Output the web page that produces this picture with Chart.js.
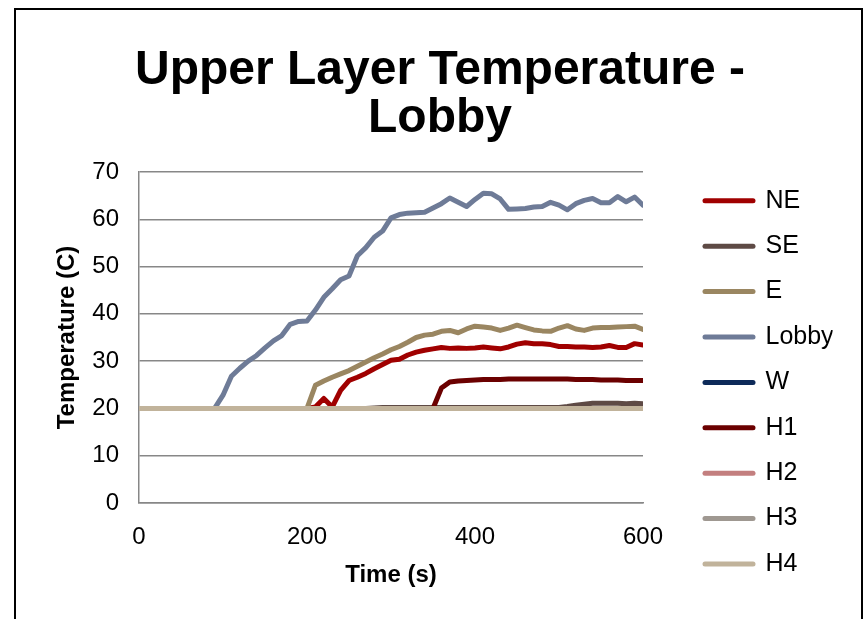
<!DOCTYPE html>
<html>
<head>
<meta charset="utf-8">
<title>Upper Layer Temperature - Lobby</title>
<script src="https://cdn.jsdelivr.net/npm/chart.js@4.4.1/dist/chart.umd.min.js"></script>
<style>
  html, body { margin: 0; padding: 0; background: #fff; overflow: hidden; }
  #wrap { position: relative; width: 866px; height: 619px; }
  #wrap canvas { position: absolute; left: 0; top: 0; }
  #frame { position: absolute; left: 14px; top: 8px; width: 849px; height: 700px;
           border: 2px solid #000; box-sizing: border-box; pointer-events: none; }
</style>
</head>
<body>
<div id="wrap">
  <canvas id="chart" width="866" height="619"></canvas>
  <div id="frame"></div>
</div>
<script>
// Sample times (s)
const timeSeconds = [
  0, 10, 20, 30, 40, 50, 60, 70, 80, 90,
  100, 110, 120, 130, 140, 150, 160, 170, 180, 190,
  200, 210, 220, 230, 240, 250, 260, 270, 280, 290,
  300, 310, 320, 330, 340, 350, 360, 370, 380, 390,
  400, 410, 420, 430, 440, 450, 460, 470, 480, 490,
  500, 510, 520, 530, 540, 550, 560, 570, 580, 590, 600
];

// Upper layer temperature (C) per compartment
const ne = [
  20, 20, 20, 20, 20, 20, 20, 20, 20, 20,
  20, 20, 20, 20, 20, 20, 20, 20, 20, 20,
  20, 20.3, 22.1, 20.3, 23.8, 25.9, 26.6, 27.4, 28.4, 29.3,
  30.2, 30.4, 31.3, 31.9, 32.3, 32.6, 32.9, 32.7, 32.8, 32.7,
  32.8, 33, 32.8, 32.6, 33, 33.6, 33.9, 33.7, 33.7, 33.5,
  33.1, 33.1, 33, 33, 32.9, 33, 33.3, 32.9, 32.9, 33.7, 33.4
];
const se = [
  20, 20, 20, 20, 20, 20, 20, 20, 20, 20,
  20, 20, 20, 20, 20, 20, 20, 20, 20, 20,
  20, 20, 20, 20, 20, 20, 20, 20, 20.1, 20.2,
  20.2, 20.2, 20.2, 20.2, 20.2, 20.2, 20.2, 20.2, 20.2, 20.2,
  20.2, 20.2, 20.2, 20.2, 20.2, 20.2, 20.2, 20.2, 20.2, 20.2,
  20.2, 20.4, 20.7, 20.9, 21.1, 21.1, 21.1, 21.1, 21, 21.1, 21
];
const e = [
  20, 20, 20, 20, 20, 20, 20, 20, 20, 20,
  20, 20, 20, 20, 20, 20, 20, 20, 20, 20,
  20, 24.9, 25.8, 26.6, 27.3, 28, 28.9, 29.8, 30.7, 31.5,
  32.4, 33.1, 34, 35, 35.5, 35.7, 36.3, 36.5, 36, 36.8,
  37.4, 37.2, 37, 36.5, 37, 37.6, 37.1, 36.6, 36.4, 36.3,
  37, 37.5, 36.8, 36.5, 37, 37.1, 37.1, 37.2, 37.3, 37.4, 36.7
];
const lobby = [
  20, 20, 20, 20, 20, 20, 20, 20, 20, 20,
  22.8, 26.8, 28.5, 30, 31.2, 32.8, 34.3, 35.4, 37.8, 38.4,
  38.5, 40.8, 43.5, 45.3, 47.2, 48, 52.3, 54, 56.2, 57.5,
  60.3, 61, 61.3, 61.4, 61.5, 62.4, 63.3, 64.5, 63.6, 62.7,
  64.2, 65.5, 65.4, 64.3, 62.1, 62.2, 62.3, 62.6, 62.7, 63.6,
  63, 62, 63.3, 64, 64.4, 63.5, 63.5, 64.8, 63.7, 64.7, 63
];
const w = [
  20, 20, 20, 20, 20, 20, 20, 20, 20, 20,
  20, 20, 20, 20, 20, 20, 20, 20, 20, 20,
  20, 20, 20, 20, 20, 20, 20, 20, 20, 20,
  20, 20, 20, 20, 20, 20, 20, 20, 20, 20,
  20, 20, 20, 20, 20, 20, 20, 20, 20, 20,
  20, 20, 20, 20, 20, 20, 20, 20, 20, 20, 20
];
const h1 = [
  20, 20, 20, 20, 20, 20, 20, 20, 20, 20,
  20, 20, 20, 20, 20, 20, 20, 20, 20, 20,
  20, 20, 20, 20, 20, 20, 20, 20, 20, 20,
  20, 20, 20, 20, 20, 20, 24.3, 25.6, 25.8, 25.9,
  26, 26.1, 26.1, 26.1, 26.2, 26.2, 26.2, 26.2, 26.2, 26.2,
  26.2, 26.2, 26.1, 26.1, 26.1, 26, 26, 26, 25.9, 25.9, 25.9
];
const h2 = [
  20, 20, 20, 20, 20, 20, 20, 20, 20, 20,
  20, 20, 20, 20, 20, 20, 20, 20, 20, 20,
  20, 20, 20, 20, 20, 20, 20, 20, 20, 20,
  20, 20, 20, 20, 20, 20, 20, 20, 20, 20,
  20, 20, 20, 20, 20, 20, 20, 20, 20, 20,
  20, 20, 20, 20, 20, 20, 20, 20, 20, 20, 20
];
const h3 = [
  20, 20, 20, 20, 20, 20, 20, 20, 20, 20,
  20, 20, 20, 20, 20, 20, 20, 20, 20, 20,
  20, 20, 20, 20, 20, 20, 20, 20, 20, 20,
  20, 20, 20, 20, 20, 20, 20, 20, 20, 20,
  20, 20, 20, 20, 20, 20, 20, 20, 20, 20,
  20, 20, 20, 20, 20, 20, 20, 20, 20, 20, 20
];
const h4 = [
  20, 20, 20, 20, 20, 20, 20, 20, 20, 20,
  20, 20, 20, 20, 20, 20, 20, 20, 20, 20,
  20, 20, 20, 20, 20, 20, 20, 20, 20, 20,
  20, 20, 20, 20, 20, 20, 20, 20, 20, 20,
  20, 20, 20, 20, 20, 20, 20, 20, 20, 20,
  20, 20, 20, 20, 20, 20, 20, 20, 20, 20, 20
];

const seriesNames = ['NE', 'SE', 'E', 'Lobby', 'W', 'H1', 'H2', 'H3', 'H4'];
const seriesValues = [ne, se, e, lobby, w, h1, h2, h3, h4];
const seriesColors = ['#A00000', '#5E4A45', '#9A8661', '#6E7B97', '#0D2A59',
                      '#6B0000', '#C37F7F', '#9F9891', '#C1B39B'];

const titleLines = ['Upper Layer Temperature -', 'Lobby'];
const xAxisTitle = 'Time (s)';
const yAxisTitle = 'Temperature (C)';

const FONT = '"Liberation Sans", Arial, Helvetica, sans-serif';
const GRID = '#878787';
const LINE_W = 5;

Chart.defaults.font.family = FONT;
Chart.defaults.color = '#000';

// Later series sit on top of earlier ones (H4 last, on top).
const datasets = seriesNames.map((name, i) => ({
  label: name,
  data: seriesValues[i],
  borderColor: seriesColors[i],
  backgroundColor: seriesColors[i],
  borderWidth: LINE_W,
  borderCapStyle: 'round',
  borderJoinStyle: 'round',
  pointRadius: 0,
  pointHoverRadius: 0,
  tension: 0,
  fill: false,
  order: seriesNames.length - 1 - i
}));

new Chart(document.getElementById('chart'), {
  type: 'line',
  data: { labels: timeSeconds, datasets },
  options: {
    responsive: false,
    animation: false,
    events: [],
    layout: { padding: { left: 47.4, right: 33.4, top: 0, bottom: 22.1 } },
    plugins: {
      tooltip: { enabled: false },
      title: {
        display: true,
        text: titleLines,
        color: '#000',
        font: { size: 48, weight: 'bold', lineHeight: 1.0 },
        padding: { top: 47, bottom: 29 }
      },
      legend: {
        position: 'right',
        align: 'end',
        maxWidth: 148,
        labels: {
          usePointStyle: true,
          pointStyleWidth: 48,
          padding: 20.4,
          color: '#000',
          font: { size: 25 },
          generateLabels: (chart) => chart.data.datasets.map((ds, i) => ({
            text: ds.label,
            fillStyle: ds.borderColor,
            strokeStyle: ds.borderColor,
            lineWidth: LINE_W,
            lineCap: 'round',
            pointStyle: 'line',
            hidden: !chart.isDatasetVisible(i),
            datasetIndex: i
          }))
        }
      }
    },
    scales: {
      x: {
        type: 'linear',
        min: 0,
        max: 600,
        ticks: { stepSize: 200, padding: 20, font: { size: 24 }, color: '#000', maxRotation: 0 },
        grid: { display: false, drawTicks: false },
        border: { display: true, color: GRID, width: 1.5 },
        title: {
          display: true,
          text: xAxisTitle,
          color: '#000',
          font: { size: 24, weight: 'bold' },
          padding: { top: 0, bottom: 7.5 }
        },
        afterFit: (s) => { s.height = 93.9; }
      },
      y: {
        min: 0,
        max: 70,
        ticks: { stepSize: 10, padding: 20, font: { size: 24 }, color: '#000' },
        grid: { color: GRID, lineWidth: 1.5, drawTicks: false },
        border: { display: true, color: GRID, width: 1.5 },
        title: {
          display: true,
          text: yAxisTitle,
          color: '#000',
          font: { size: 24, weight: 'bold' },
          padding: { top: 5.2, bottom: 0 }
        },
        afterFit: (s) => { s.width = 91.6; }
      },
      // empty gutter between the plot and the legend
      gutter: {
        type: 'linear',
        position: 'right',
        display: true,
        ticks: { display: false },
        grid: { display: false, drawTicks: false },
        border: { display: false },
        afterFit: (s) => { s.width = 41.6; }
      }
    }
  }
});
</script>
</body>
</html>
